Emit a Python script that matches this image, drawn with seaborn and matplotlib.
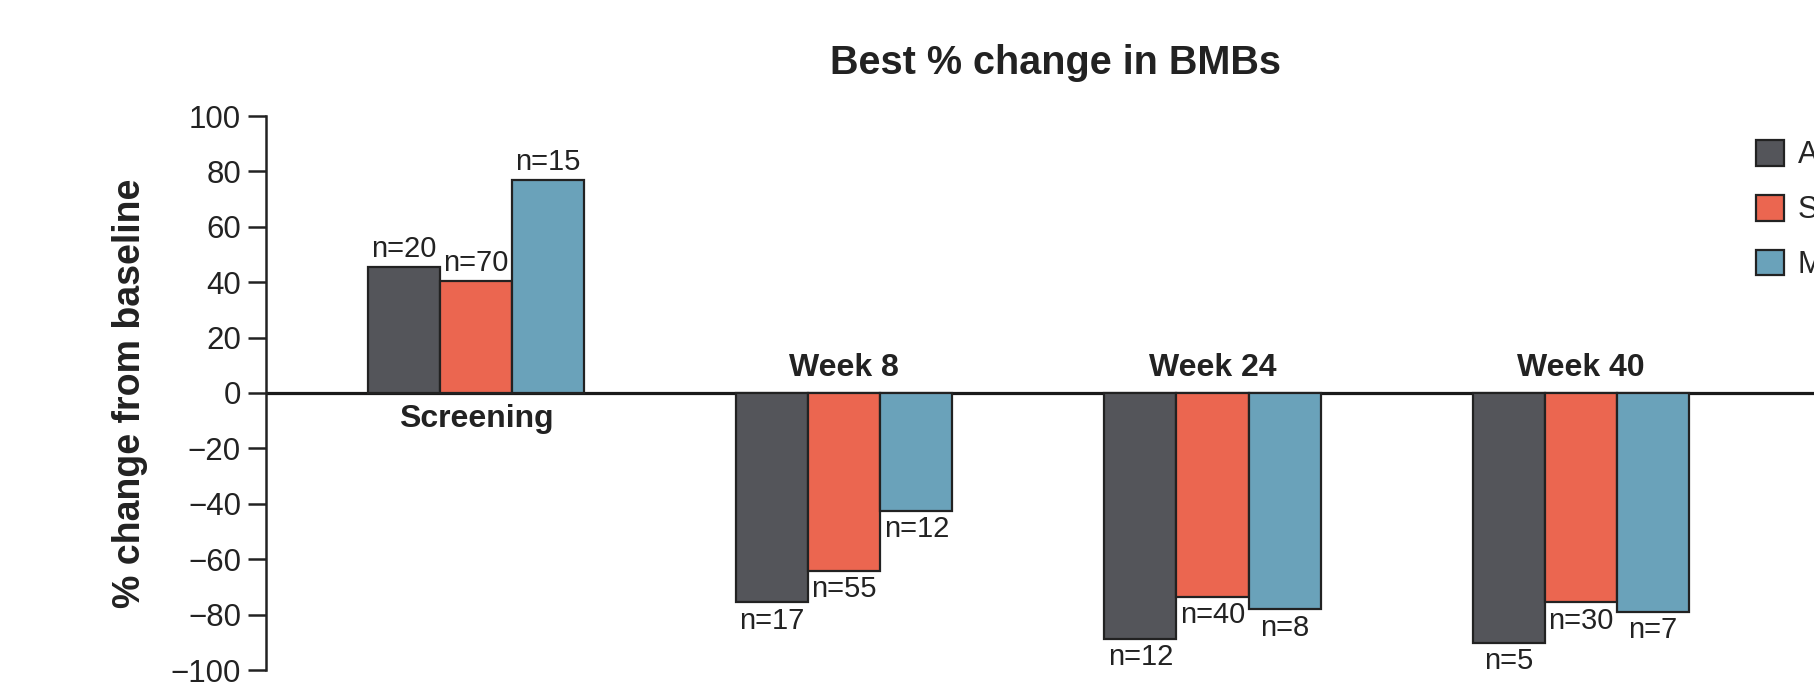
import pandas as pd
import seaborn as sns
import matplotlib.pyplot as plt

timepoints = ['Screening', 'Week 8', 'Week 24', 'Week 40']
groups = ['A', 'S', 'M']
colors = ['#54555a', '#eb6650', '#6aa2ba']

pct_a = [45.5, -75.6, -88.9, -90.2]
pct_s = [40.5, -64.3, -73.5, -75.6]
pct_m = [76.8, -42.6, -78.1, -78.9]

n_a = [20, 17, 12, 5]
n_s = [70, 55, 40, 30]
n_m = [15, 12, 8, 7]

df = pd.DataFrame({
    'timepoint': timepoints * 3,
    'group': [g for g in groups for _ in timepoints],
    'pct': pct_a + pct_s + pct_m,
    'n': n_a + n_s + n_m,
})

sns.set_style('white')
plt.rcParams['font.family'] = ['Liberation Sans', 'DejaVu Sans']

fig = plt.figure(figsize=(18.15, 6.98), dpi=100)
ax = fig.add_axes([266 / 1815, 1 - 670 / 698, 1 - 266 / 1815, (670 - 116) / 698])

sns.barplot(data=df, x='timepoint', y='pct', hue='group', order=timepoints,
            hue_order=groups, palette=colors, width=0.587, errorbar=None,
            edgecolor='#222222', linewidth=1.6, saturation=1, ax=ax)

# n labels above / below bars
for cont, g in zip(ax.containers, groups):
    labels = [f'n={v}' for v in df.loc[df['group'] == g, 'n']]
    ax.bar_label(cont, labels=labels, padding=3, fontsize=21, color='#222222')

# timepoint names sit on the zero line
for i, (tp, v) in enumerate(zip(timepoints, pct_a)):
    if v > 0:
        ax.annotate(tp, (i, 0), xytext=(0, -8), textcoords='offset points',
                    ha='center', va='top', fontsize=23, fontweight='bold',
                    color='#222222')
    else:
        ax.annotate(tp, (i, 0), xytext=(0, 7), textcoords='offset points',
                    ha='center', va='bottom', fontsize=23, fontweight='bold',
                    color='#222222')

ax.axhline(0, color='#1a1a1a', lw=2.3, zorder=0.5)
ax.set_xlim(-0.570, 3.636)
ax.set_ylim(-100, 100)
ax.set_yticks(range(-100, 101, 20))
ax.set_xticks([])
ax.set_xlabel('')
ax.set_ylabel('% change from baseline', fontsize=27, fontweight='bold',
              labelpad=16, color='#222222')
ax.tick_params(axis='y', labelsize=22.5, length=13, width=1.8, pad=5,
               colors='#222222', left=True)
for s in ['top', 'right', 'bottom']:
    ax.spines[s].set_visible(False)
ax.spines['left'].set_linewidth(1.8)
ax.spines['left'].set_color('#222222')

ax.set_title('Best % change in BMBs', fontsize=28.5, fontweight='bold',
             pad=30, x=0.51, color='#222222')

handles, _ = ax.get_legend_handles_labels()
ax.legend(handles, groups, loc='upper left',
          bbox_to_anchor=(1756 / 1815, 1 - 140 / 698),
          bbox_transform=fig.transFigure, frameon=False, fontsize=22,
          handlelength=0.92, handleheight=0.92, handletextpad=0.45,
          labelspacing=0.8, borderpad=0, borderaxespad=0)

fig.savefig('out.png', dpi=100)
